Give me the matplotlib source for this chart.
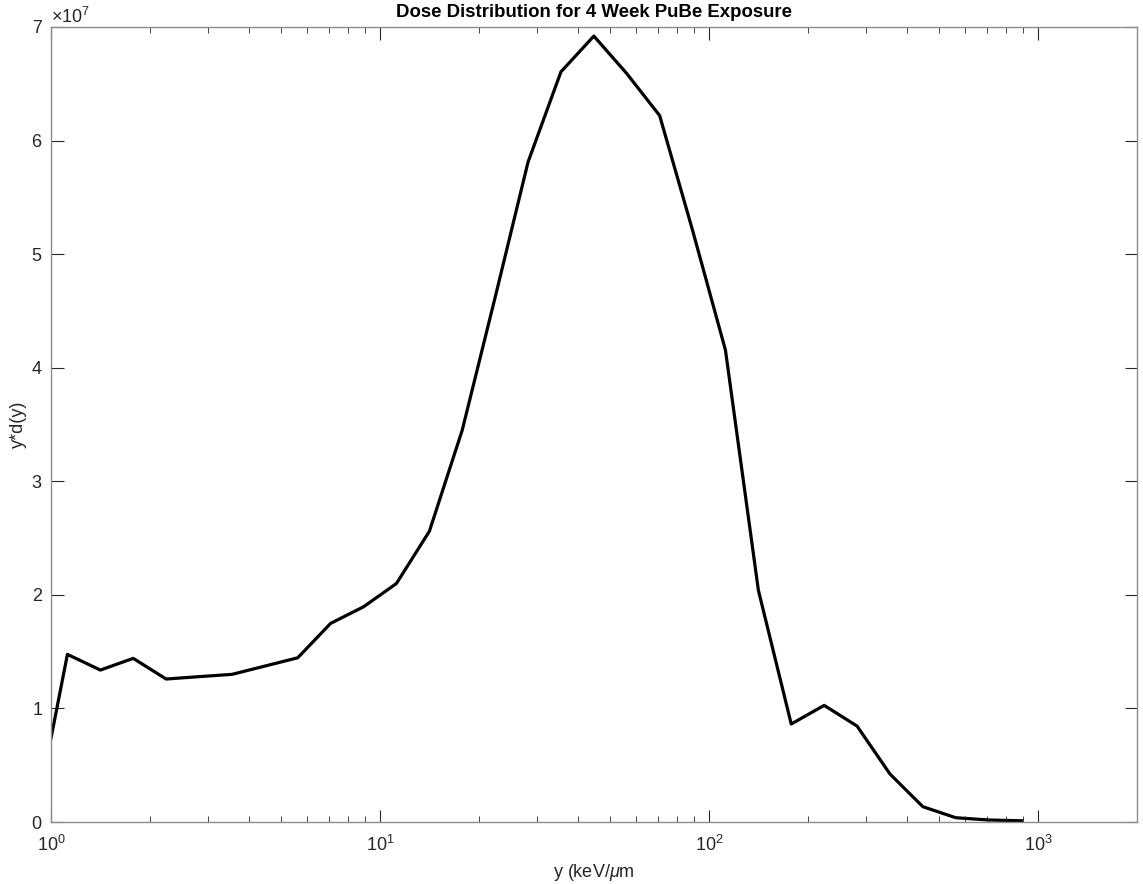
import matplotlib
matplotlib.use("Agg")
import matplotlib.pyplot as plt
from matplotlib.ticker import LogLocator, NullFormatter

# lineal energy bin centres (keV/um) and y*d(y) values
lineal_energy = [1.0, 1.122, 1.413, 1.778, 2.239, 2.818, 3.548, 4.467, 5.623, 7.079,
                 8.913, 11.22, 14.13, 17.78, 22.39, 28.18, 35.48, 44.67, 56.23, 70.79,
                 89.13, 112.2, 141.3, 177.8, 223.9, 281.8, 354.8, 446.7, 562.3, 707.9,
                 891.3]
yd_values = [0.737, 1.476, 1.338, 1.441, 1.259, 1.280, 1.300, 1.373, 1.446, 1.749,
             1.895, 2.100, 2.560, 3.450, 4.620, 5.810, 6.605, 6.920, 6.590, 6.220,
             5.210, 4.155, 2.040, 0.863, 1.027, 0.845, 0.423, 0.135, 0.038, 0.018,
             0.011]
yd_values = [v * 1e7 for v in yd_values]

plt.rcParams['font.family'] = ['Liberation Sans', 'DejaVu Sans']
plt.rcParams['mathtext.fontset'] = 'custom'
plt.rcParams['mathtext.rm'] = 'Liberation Sans'
plt.rcParams['mathtext.it'] = 'Liberation Sans:italic'

fig = plt.figure(figsize=(11.43, 8.84), dpi=100)
ax = fig.add_axes([0.0446, 0.0701, 0.9502, 0.8994])

ax.plot(lineal_energy, yd_values, color='black', linewidth=2.3)

ax.set_xscale('log')
ax.set_xlim(1, 2000)
ax.set_ylim(0, 7e7)
ax.set_yticks([i * 1e7 for i in range(8)])
ax.ticklabel_format(style='sci', axis='y', scilimits=(7, 7), useMathText=True)
ax.xaxis.set_minor_locator(LogLocator(base=10, subs=range(2, 10), numticks=20))
ax.xaxis.set_minor_formatter(NullFormatter())

text_col = '#262626'
for s in ax.spines.values():
    s.set_color('#8c8c8c')
    s.set_linewidth(1.0)
ax.tick_params(which='both', direction='in', top=True, right=True,
               color=text_col, labelcolor=text_col, labelsize=13)
ax.tick_params(axis='y', which='major', length=9, width=0.8, pad=6)
ax.tick_params(axis='x', which='major', length=9, width=0.8, pad=9)
ax.tick_params(which='minor', length=4.5, width=0.6)
ax.yaxis.get_offset_text().set_fontsize(13)
ax.yaxis.get_offset_text().set_color(text_col)

ax.set_title('Dose Distribution for 4 Week PuBe Exposure', fontsize=13.4,
             fontweight='bold', pad=7.5)
ax.set_xlabel(r'y (keV/$\mu$m', fontsize=13, color=text_col, labelpad=5)
ax.set_ylabel('y*d(y)', fontsize=13, color=text_col, labelpad=3)

fig.savefig('out.png', dpi=100)
plt.close(fig)
